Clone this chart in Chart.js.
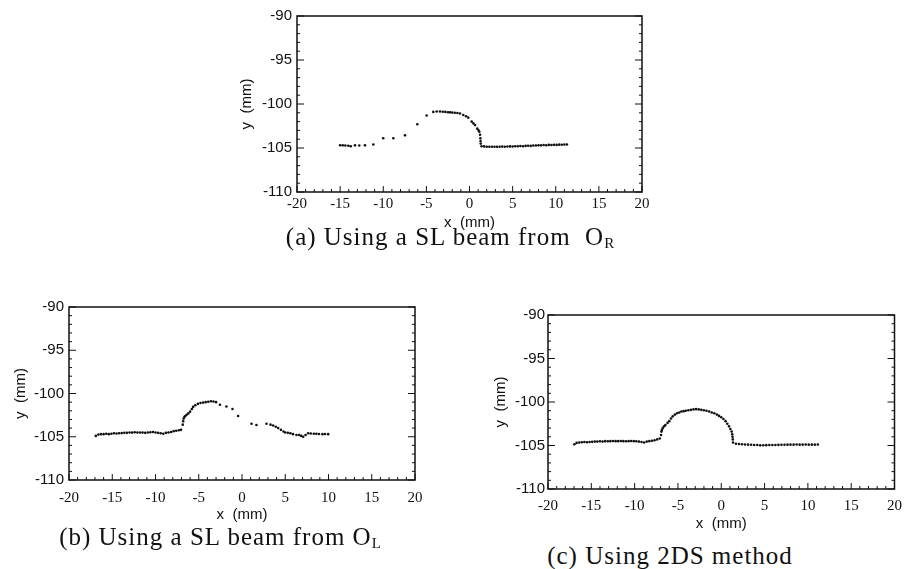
<!DOCTYPE html>
<html>
<head>
<meta charset="utf-8">
<script src="https://cdn.jsdelivr.net/npm/chart.js@4.4.1/dist/chart.umd.min.js"></script>
<style>
  body { margin: 0; background: #fff; width: 910px; height: 569px; position: relative; overflow: hidden; }
  canvas { position: absolute; }
  .cap { position: absolute; font-family: "Liberation Serif", serif; font-size: 25px; line-height: 1;
         letter-spacing: 1px; color: #111; white-space: nowrap; transform: translateX(-50%); }
  .cap sub { font-size: 15px; vertical-align: -3px; letter-spacing: 0; }
</style>
</head>
<body>
<canvas id="chartA" width="470" height="232" style="left:200px;top:0px"></canvas>
<canvas id="chartB" width="440" height="235" style="left:0px;top:290px"></canvas>
<canvas id="chartC" width="460" height="240" style="left:450px;top:295px"></canvas>
<div class="cap" style="left:450px;top:224px">(a) Using a SL beam from &nbsp;O<sub>R</sub></div>
<div class="cap" style="left:220px;top:524px">(b) Using a SL beam from O<sub>L</sub></div>
<div class="cap" style="left:670px;top:543px">(c) Using 2DS method</div>
<script>
// profile measured with the SL beam from O_R
const xA = [-15.0, -14.7, -14.4, -14.05, -13.77, -13.28, -12.78, -12.12, -11.15,
  -10.0, -8.83, -7.48, -6.05, -4.97, -4.2,
  -3.8, -3.42, -3.1, -2.8, -2.5, -2.26, -2.0, -1.7, -1.4, -1.1,
  -0.72, -0.4, -0.14, 0.25, 0.45, 0.64, 0.9, 1.05, 1.14, 1.22, 1.26, 1.28, 1.3, 1.4,
  1.7, 2.0, 2.3, 2.6, 2.9, 3.2, 3.5, 3.8, 4.1, 4.4, 4.7, 5.0, 5.3, 5.6, 5.9, 6.2, 6.5,
  6.8, 7.1, 7.4, 7.7, 8.0, 8.3, 8.6, 8.9, 9.2, 9.5, 9.8, 10.1, 10.4, 10.7, 11.0, 11.3];
const yA = [-104.68, -104.7, -104.72, -104.75, -104.8, -104.7, -104.72, -104.7, -104.6,
  -103.9, -103.9, -103.56, -102.3, -101.3, -100.9,
  -100.85, -100.85, -100.88, -100.9, -100.93, -100.95, -100.98, -101.0, -101.03, -101.08,
  -101.25, -101.4, -101.55, -102.0, -102.2, -102.4, -102.8, -103.0, -103.15, -103.5, -103.9, -104.2, -104.5, -104.8,
  -104.82, -104.85, -104.85, -104.86, -104.85, -104.87, -104.85, -104.84, -104.85, -104.83, -104.82, -104.83, -104.8, -104.8, -104.78, -104.8, -104.76,
  -104.75, -104.76, -104.72, -104.72, -104.7, -104.7, -104.66, -104.68, -104.65, -104.66, -104.64, -104.65, -104.62, -104.63, -104.6, -104.6];

// profile measured with the SL beam from O_L
const xB = [-16.9, -16.6, -16.3, -16.0, -15.7, -15.4, -15.1, -14.8, -14.5, -14.2, -13.9, -13.6,
  -13.3, -13.0, -12.7, -12.4, -12.1, -11.8, -11.5, -11.2, -10.9, -10.6, -10.3, -10.0, -9.7, -9.4,
  -9.1, -8.8, -8.5, -8.2, -7.9, -7.6, -7.3, -7.05,
  -6.85, -6.8, -6.75, -6.65, -6.55, -6.4, -6.2, -6.0, -5.8, -5.65, -5.4, -5.1, -4.8, -4.5, -4.2,
  -3.9, -3.6, -3.3, -3.0, -2.55, -1.8, -1.1, -0.45, 1.1, 1.67, 2.83, 3.3, 3.6, 3.9, 4.18, 4.5,
  4.8, 5.0, 5.3, 5.6, 5.9, 6.3, 6.6, 6.85, 7.07, 7.35, 7.65, 7.95, 8.3, 8.6, 8.9, 9.3, 9.6, 9.96];
const yB = [-104.9, -104.75, -104.7, -104.7, -104.65, -104.7, -104.65, -104.6, -104.62, -104.6, -104.58, -104.55,
  -104.55, -104.5, -104.52, -104.48, -104.5, -104.5, -104.52, -104.55, -104.5, -104.48, -104.45, -104.5, -104.55, -104.6,
  -104.65, -104.55, -104.5, -104.45, -104.35, -104.3, -104.25, -104.2,
  -103.6, -103.2, -102.9, -102.7, -102.6, -102.45, -102.3, -102.1, -101.8, -101.55, -101.35, -101.2, -101.1, -101.05, -101.0,
  -100.95, -100.9, -100.92, -101.0, -101.3, -101.5, -101.8, -102.6, -103.5, -103.65, -103.5, -103.6, -103.7, -103.85, -104.0, -104.2,
  -104.4, -104.5, -104.55, -104.6, -104.7, -104.8, -104.8, -104.9, -105.0, -104.8, -104.6, -104.62, -104.65, -104.65, -104.68, -104.7, -104.68, -104.7];

// profile from the 2DS method
const xC = [-16.95, -16.7, -16.4, -16.1, -15.8, -15.5, -15.2, -14.9, -14.6, -14.3, -14.0, -13.7,
  -13.4, -13.1, -12.8, -12.5, -12.2, -11.9, -11.6, -11.3, -11.0, -10.7, -10.4, -10.1, -9.8, -9.5,
  -9.2, -8.9, -8.6, -8.3, -8.0, -7.7, -7.4, -7.1,
  -6.95, -6.9, -6.85, -6.75, -6.6, -6.45, -6.2, -6.0, -5.8, -5.6, -5.35, -5.1, -4.85, -4.6, -4.35,
  -4.1, -3.8, -3.5, -3.2, -2.9, -2.6, -2.3, -2.0, -1.7, -1.4, -1.1, -0.8, -0.5, -0.25, 0.0, 0.25,
  0.5, 0.7, 0.9, 1.05, 1.2, 1.27, 1.3, 1.33, 1.36,
  1.7, 2.05, 2.4, 2.75, 3.1, 3.45, 3.8, 4.15, 4.5, 4.85, 5.2, 5.55, 5.9, 6.25, 6.6, 6.95, 7.3,
  7.65, 8.0, 8.35, 8.7, 9.05, 9.4, 9.75, 10.1, 10.45, 10.8, 11.15];
const yC = [-104.85, -104.7, -104.65, -104.62, -104.6, -104.62, -104.6, -104.58, -104.55, -104.55, -104.52, -104.55,
  -104.5, -104.52, -104.5, -104.48, -104.5, -104.5, -104.48, -104.5, -104.52, -104.5, -104.48, -104.5, -104.52, -104.55,
  -104.6, -104.65, -104.55, -104.5, -104.45, -104.4, -104.3, -104.2,
  -103.8, -103.4, -103.2, -103.0, -102.8, -102.65, -102.4, -102.2, -101.9, -101.65, -101.45, -101.3, -101.2, -101.1, -101.05,
  -101.0, -100.95, -100.9, -100.85, -100.82, -100.85, -100.9, -100.95, -101.0, -101.1, -101.2, -101.3, -101.45, -101.6, -101.75, -101.95,
  -102.2, -102.5, -102.8, -103.1, -103.4, -103.7, -104.0, -104.3, -104.65,
  -104.8, -104.82, -104.85, -104.88, -104.9, -104.92, -104.95, -104.95, -104.98, -104.97, -104.96, -104.95, -104.95, -104.94, -104.93, -104.92, -104.92,
  -104.9, -104.9, -104.9, -104.88, -104.9, -104.9, -104.88, -104.9, -104.9, -104.9, -104.88];

const xTicks = [-20, -15, -10, -5, 0, 5, 10, 15, 20];
const yTicks = [-110, -105, -100, -95, -90];

// box round the plot with small inward ticks (every 1 mm, longer every 5 mm)
const frameTicks = {
  id: 'frameTicks',
  afterDraw(chart) {
    const { ctx, chartArea: a, scales: { x, y } } = chart;
    ctx.save();
    ctx.strokeStyle = '#111';
    ctx.lineWidth = 1;
    ctx.beginPath();
    for (let v = x.min; v <= x.max; v++) {
      const px = x.getPixelForValue(v);
      const len = v % 5 === 0 ? 6 : 3;
      ctx.moveTo(px, a.bottom);
      ctx.lineTo(px, a.bottom - len);
    }
    for (let v = y.min; v <= y.max; v++) {
      const py = y.getPixelForValue(v);
      const len = v % 5 === 0 ? 7 : 3;
      ctx.moveTo(a.left, py);
      ctx.lineTo(a.left + len, py);
      ctx.moveTo(a.right, py);
      ctx.lineTo(a.right - len, py);
    }
    ctx.stroke();
    ctx.lineWidth = 1.5;
    ctx.strokeRect(a.left, a.top, a.right - a.left, a.bottom - a.top);
    ctx.restore();
  }
};

function makeChart(id, xs, ys, lay) {
  const points = xs.map((v, i) => ({ x: v, y: ys[i] }));
  return new Chart(document.getElementById(id), {
    type: 'scatter',
    data: {
      datasets: [{
        data: points,
        pointRadius: 1.3,
        pointBackgroundColor: '#111',
        pointBorderWidth: 0
      }]
    },
    options: {
      responsive: false,
      animation: false,
      devicePixelRatio: 1,
      layout: { padding: lay.padding },
      plugins: { legend: { display: false }, tooltip: { enabled: false } },
      scales: {
        x: {
          type: 'linear',
          min: -20, max: 20,
          afterBuildTicks: s => { s.ticks = xTicks.map(v => ({ value: v })); },
          afterFit: s => { s.height = lay.xHeight; },
          grid: { display: false, drawTicks: false },
          border: { display: false },
          ticks: { color: '#111', padding: lay.xPad, maxRotation: 0,
                   font: { family: 'Liberation Serif', size: 15 } },
          title: { display: true, text: 'x  (mm)', color: '#111',
                   padding: { top: 0, bottom: lay.xTitlePad },
                   font: { family: 'Liberation Sans', size: 15 } }
        },
        y: {
          type: 'linear',
          min: -110, max: -90,
          afterBuildTicks: s => { s.ticks = yTicks.map(v => ({ value: v })); },
          afterFit: s => { s.width = lay.yWidth; },
          grid: { display: false, drawTicks: false },
          border: { display: false },
          ticks: { color: '#111', padding: lay.yPad,
                   font: { family: 'Liberation Sans', size: 15 } },
          title: { display: true, text: 'y  (mm)', color: '#111',
                   padding: { top: lay.yTitlePad, bottom: 0 },
                   font: { family: 'Liberation Sans', size: 15 } }
        }
      }
    },
    plugins: [frameTicks]
  });
}

makeChart('chartA', xA, yA, { padding: { top: 16, right: 28, left: 0, bottom: 0 },
  yWidth: 97, xHeight: 40, xPad: 3, yPad: 5, xTitlePad: 0, yTitlePad: 38 });
makeChart('chartB', xB, yB, { padding: { top: 17, right: 25, left: 0, bottom: 0 },
  yWidth: 69, xHeight: 45, xPad: 9, yPad: 5, xTitlePad: 1, yTitlePad: 12 });
makeChart('chartC', xC, yC, { padding: { top: 20, right: 14, left: 0, bottom: 0 },
  yWidth: 98, xHeight: 46, xPad: 8, yPad: 3, xTitlePad: 2, yTitlePad: 42 });
</script>
</body>
</html>
